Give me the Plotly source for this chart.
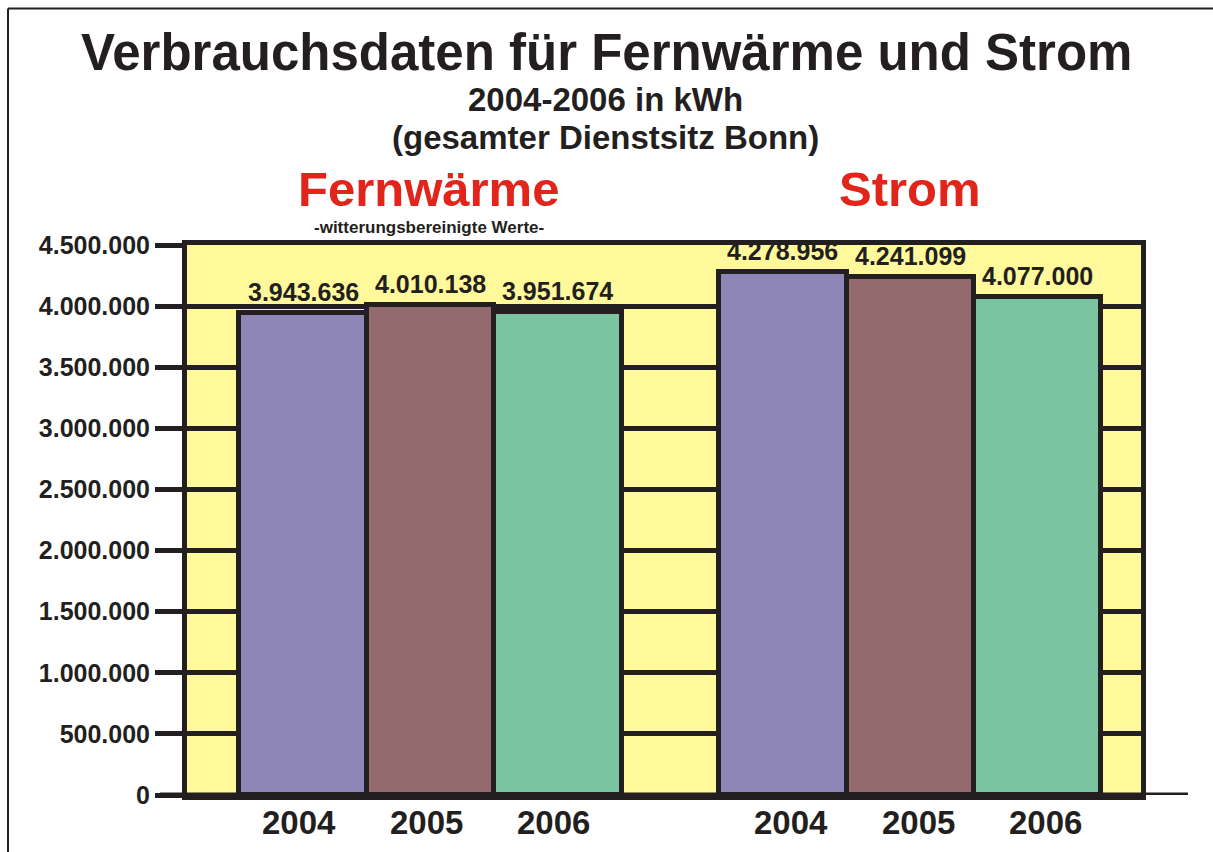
import plotly.graph_objects as go

# ---- data ----
groups = ["Fernwärme", "Strom"]
years = ["2004", "2005", "2006"]
fernwaerme = [3943636, 4010138, 3951674]
strom = [4278956, 4241099, 4077000]
y_ticks = [0, 500000, 1000000, 1500000, 2000000, 2500000, 3000000, 3500000, 4000000, 4500000]

DARK = "#231f20"
RED = "#e1251b"
YELLOW = "#fff99b"
bar_colors = ["#8e86b7", "#936a6e", "#7ac4a1"]
FONT = "Arial, Liberation Sans, sans-serif"

W, H = 1213, 852
L, R, T, B = 187, 1141, 245, 795  # plot area in px


def px(xp):
    return (xp - L) / (R - L)


def py(yp):
    return (B - yp) / (B - T)


def de(v):
    return f"{v:,}".replace(",", ".")


group_offset = 3.763
group_label_shift = [-4, 8]
xs, vals, cols, labels, yr_text, yr_shift = [], [], [], [], [], []
for gi, series in enumerate([fernwaerme, strom]):
    for i, v in enumerate(series):
        xs.append(gi * group_offset + i)
        vals.append(v)
        cols.append(bar_colors[i])
        labels.append(de(v))
        yr_text.append(years[i])
        yr_shift.append(group_label_shift[gi])

fig = go.Figure()
fig.add_trace(go.Bar(
    x=xs, y=vals, width=1,
    marker=dict(color=cols, line=dict(color=DARK, width=5)),
    showlegend=False, hoverinfo="skip",
))

# value labels above bars
for x, v, t in zip(xs, vals, labels):
    fig.add_annotation(x=x, y=v, xref="x", yref="y", text="<b>" + t + "</b>",
                       showarrow=False, xanchor="center", yanchor="bottom", yshift=5,
                       font=dict(family=FONT, size=25, color=DARK))

# year labels under bars
for x, t, s in zip(xs, yr_text, yr_shift):
    fig.add_annotation(x=x, y=py(822), xref="x", yref="paper", text="<b>" + t + "</b>",
                       showarrow=False, xanchor="center", yanchor="middle", xshift=s,
                       font=dict(family=FONT, size=33, color=DARK))

fig.update_layout(
    width=W, height=H,
    margin=dict(l=L, r=W - R, t=T, b=H - B),
    paper_bgcolor="white", plot_bgcolor=YELLOW,
    bargap=0,
    xaxis=dict(
        range=[-0.91, 6.573], showticklabels=False,
        showgrid=False, zeroline=False, showline=True, linewidth=5, linecolor=DARK,
        mirror=True, ticks="",
    ),
    yaxis=dict(
        range=[0, 4500000], tickvals=y_ticks, ticktext=[de(v) for v in y_ticks],
        showgrid=True, gridcolor=DARK, gridwidth=5, zeroline=False,
        showline=True, linewidth=5, linecolor=DARK, mirror=True,
        ticks="outside", ticklen=27, tickwidth=5, tickcolor=DARK,
        tickfont=dict(family=FONT, size=25, color=DARK, weight="bold"),
    ),
    font=dict(family=FONT, color=DARK),
)

# bottom axis extension
fig.add_shape(type="line", xref="paper", yref="y", x0=px(160), x1=px(1188), y0=0, y1=0,
              line=dict(color=DARK, width=5))
# page frame
fig.add_shape(type="line", xref="paper", yref="paper", x0=px(8), x1=px(W + 5), y0=py(8.5), y1=py(8.5),
              line=dict(color=DARK, width=2))
fig.add_shape(type="line", xref="paper", yref="paper", x0=px(8), x1=px(8), y0=py(8.5), y1=py(H + 5),
              line=dict(color=DARK, width=2))

anns = [
    ("<b>Verbrauchsdaten für Fernwärme und Strom</b>", 606, 52, 51, DARK),
    ("<b>2004-2006 in kWh</b>", 605, 99, 33, DARK),
    ("<b>(gesamter Dienstsitz Bonn)</b>", 605, 137, 33, DARK),
    ("<b>" + groups[0] + "</b>", 428, 189, 49, RED),
    ("<b>-witterungsbereinigte Werte-</b>", 429, 228, 17, DARK),
    ("<b>" + groups[1] + "</b>", 910, 189, 49, RED),
]
for text, x, y, size, color in anns:
    fig.add_annotation(text=text, xref="paper", yref="paper", x=px(x), y=py(y),
                       xanchor="center", yanchor="middle", showarrow=False,
                       font=dict(family=FONT, size=size, color=color))

post = (
    "document.documentElement.style.overflow='hidden';"
    "document.body.style.margin='0';document.body.style.overflow='hidden';"
)
fig.write_html("out.html", config={"displayModeBar": False}, post_script=post)
